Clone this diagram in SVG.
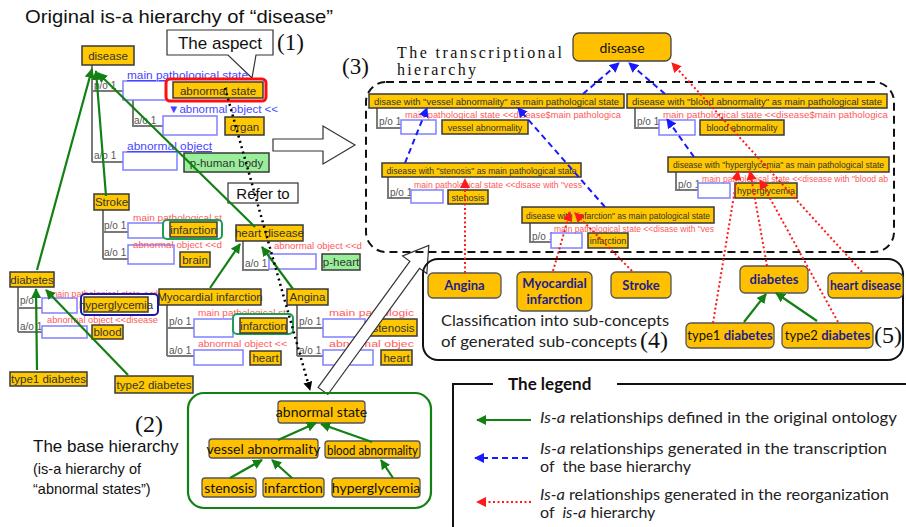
<svg xmlns="http://www.w3.org/2000/svg" width="906" height="527" viewBox="0 0 906 527">
<defs>
<marker id="ag" viewBox="0 0 10 10" refX="9" refY="5" markerWidth="10" markerHeight="10" markerUnits="userSpaceOnUse" orient="auto"><path d="M0,0 L10,5 L0,10 z" fill="#128012"/></marker>
<marker id="ab" viewBox="0 0 10 10" refX="9" refY="5" markerWidth="10" markerHeight="10" markerUnits="userSpaceOnUse" orient="auto"><path d="M0,0 L10,5 L0,10 z" fill="#1a1aff"/></marker>
<marker id="ar" viewBox="0 0 10 10" refX="9" refY="5" markerWidth="10" markerHeight="10" markerUnits="userSpaceOnUse" orient="auto"><path d="M0,0 L10,5 L0,10 z" fill="#ff1a1a"/></marker>
<marker id="ak" viewBox="0 0 10 10" refX="9" refY="5" markerWidth="9" markerHeight="9" markerUnits="userSpaceOnUse" orient="auto"><path d="M0,0 L10,5 L0,10 z" fill="#000"/></marker>
</defs>
<style>
.ty{fill:#FFC800;stroke:#3a3a3a;stroke-width:1.5}
.tg{fill:#99EE99;stroke:#3a3a3a;stroke-width:1.5}
.tt{font-family:"Liberation Sans",Arial,sans-serif;font-size:11.5px;fill:#333;text-anchor:middle}
.ts{font-family:"Liberation Sans",Arial,sans-serif;font-size:9px;fill:#333;text-anchor:middle}
.tl{stroke:#7a7a7a;stroke-width:2;fill:none}
.bb{fill:#fff;stroke:#8080ff;stroke-width:1.5}
.bt{font-family:"Liberation Sans",Arial,sans-serif;font-size:11.5px;fill:#4646ff;text-decoration:underline}
.rt{font-family:"Liberation Sans",Arial,sans-serif;font-size:9.5px;fill:#ff5a5a}
.pl{font-family:"Liberation Sans",Arial,sans-serif;font-size:10px;fill:#555}
.gr{stroke:#128012;stroke-width:2.2;fill:none;marker-end:url(#ag)}
.bd{stroke:#1a1aff;stroke-width:2;stroke-dasharray:6 4;fill:none;marker-end:url(#ab)}
.rd{stroke:#ff1a1a;stroke-width:2;stroke-dasharray:2 2.5;fill:none;marker-end:url(#ar)}
.oy{fill:#FFC000;stroke:#555;stroke-width:1.3}
.ot{font-family:Lato,"Open Sans",sans-serif;font-size:14px;fill:#111;text-anchor:middle}
.ob{font-family:Lato,"Open Sans",sans-serif;font-size:13px;font-weight:bold;fill:#1e1e8c;text-anchor:middle}
.sa{font-family:"Liberation Sans",Arial,sans-serif;fill:#111}
.tm{font-family:"Liberation Serif","Times New Roman",serif;fill:#111}
.lg{font-family:Lato,"Open Sans",sans-serif;font-size:16px;fill:#222}
</style>

<!-- Captions -->
<text class="sa" x="25" y="23" font-size="19" textLength="308" lengthAdjust="spacingAndGlyphs">Original is-a hierarchy of “disease”</text>
<g id="aspect">
<path d="M167,30 H273 V55 H256 L252,78 L228,55 H167 Z" fill="#fff" stroke="#333" stroke-width="1.2"/>
<text class="sa" x="220" y="49" font-size="17" text-anchor="middle">The aspect</text>
</g>
<text class="tm" x="277" y="50" font-size="23">(1)</text>
<text class="tm" x="342" y="74" font-size="23">(3)</text>
<text class="tm" x="397" y="58" font-size="16" textLength="165" lengthAdjust="spacing">The transcriptional</text>
<text class="tm" x="397" y="75" font-size="16" textLength="79" lengthAdjust="spacing">hierarchy</text>
<text class="tm" x="135" y="432" font-size="24">(2)</text>
<text class="sa" x="33" y="452" font-size="17">The base hierarchy</text>
<text class="sa" x="33" y="474" font-size="14.5">(is-a hierarchy of</text>
<text class="sa" x="33" y="494" font-size="14.5">“abnormal states”)</text>

<!-- tree lines of the ontology tool -->
<g id="treelines">
<path class="tl" d="M92,65 V162 M92,91 H123 M92,162 H123 M133,100 V126 H163"/>
<path class="tl" d="M103,210 V259 M103,232 H128 M103,259 H128"/>
<path class="tl" d="M243,241 V270 H269"/>
<path class="tl" d="M167,305 V356 M167,328 H194 M167,356 H194"/>
<path class="tl" d="M297,305 V356 M297,328 H323 M297,356 H323"/>
<path class="tl" d="M18,287 V332 M18,308 H42 M18,332 H42"/>
<path class="tl" d="M377,108 V128 H401"/>
<path class="tl" d="M635,108 V128 H659"/>
<path class="tl" d="M676,172 V190 H698"/>
<path class="tl" d="M388,177 V198 H411"/>
<path class="tl" d="M530,223 V242 H551"/>
</g>

<g id="disease">
<rect class="ty" x="82" y="46" width="52" height="19"/>
<text class="tt" x="108" y="60" font-size="12.5">disease</text>
<text class="pl" x="94" y="89">p/o 1</text>
<rect class="bb" x="123" y="81" width="44" height="19"/>
<text class="bt" x="127" y="79" textLength="121" lengthAdjust="spacingAndGlyphs">main pathological state</text>
<rect x="166" y="79" width="100" height="22" rx="4" fill="#fff" stroke="#ff1010" stroke-width="3"/>
<rect class="ty" x="173" y="82" width="90" height="16"/>
<text class="tt" x="218" y="94.5" font-size="12">abnormal state</text>
<text class="pl" x="134" y="124">a/o 1</text>
<rect class="bb" x="163" y="116" width="54" height="19"/>
<text class="bt" x="168" y="113" textLength="110" lengthAdjust="spacingAndGlyphs" style="text-decoration:none">▼abnormal object &lt;&lt;</text>
<rect class="ty" x="225" y="117" width="39" height="18"/>
<text class="tt" x="244.5" y="130.5" font-size="12">organ</text>
<text class="pl" x="94" y="159">a/o 1</text>
<rect class="bb" x="123" y="152" width="54" height="18"/>
<text class="bt" x="127" y="150" textLength="85" lengthAdjust="spacingAndGlyphs">abnormal object</text>
<rect class="tg" x="184" y="153" width="85" height="19"/>
<text class="tt" x="226.5" y="166.5" font-size="12">p-human body</text>
</g>

<g id="stroke">
<rect class="ty" x="94" y="194" width="35" height="16"/>
<text class="tt" x="111.5" y="206" font-size="10.5">Stroke</text>
<text class="pl" x="104" y="229">p/o 1</text>
<rect class="bb" x="128" y="223" width="35" height="15"/>
<text class="rt" x="133" y="221" textLength="89" lengthAdjust="spacingAndGlyphs">main pathological st</text>
<rect x="163" y="220" width="59" height="19" rx="4" fill="#fff" stroke="#1aa050" stroke-width="2"/>
<rect class="ty" x="170" y="222" width="47" height="15"/>
<text class="tt" x="193.5" y="233.5" font-size="10.5">infarction</text>
<text class="pl" x="104" y="256">a/o 1</text>
<rect class="bb" x="128" y="245" width="46" height="19"/>
<text class="rt" x="133" y="248" textLength="89" lengthAdjust="spacingAndGlyphs">abnormal object &lt;&lt;d</text>
<rect class="ty" x="180" y="252" width="30" height="15"/>
<text class="tt" x="195" y="263.5" font-size="10.5">brain</text>
</g>

<g id="heart-disease">
<rect class="ty" x="236" y="225" width="67" height="16"/>
<text class="tt" x="269.5" y="237" font-size="10.5">heart disease</text>
<text class="pl" x="245" y="267">a/o 1</text>
<rect class="bb" x="269" y="254" width="47" height="15"/>
<text class="rt" x="274" y="249" textLength="88" lengthAdjust="spacingAndGlyphs">abnormal object &lt;&lt;d</text>
<rect class="tg" x="322" y="254" width="38" height="16"/>
<text class="tt" x="341" y="266" font-size="10.5">p-heart</text>
</g>

<g id="myocardial">
<rect class="ty" x="159" y="289" width="102" height="16"/>
<text class="tt" x="210" y="301" font-size="10.5">Myocardial infarction</text>
<text class="pl" x="169" y="325">p/o 1</text>
<rect class="bb" x="194" y="319" width="39" height="18"/>
<text class="rt" x="198" y="316" textLength="88" lengthAdjust="spacingAndGlyphs">main pathological st</text>
<rect x="233" y="314" width="60" height="20" rx="4" fill="#fff" stroke="#1aa050" stroke-width="2"/>
<rect class="ty" x="240" y="318" width="47" height="15"/>
<text class="tt" x="263.5" y="329.5" font-size="10.5">infarction</text>
<text class="pl" x="169" y="354">a/o 1</text>
<rect class="bb" x="194" y="350" width="49" height="15"/>
<text class="rt" x="198" y="347" textLength="89" lengthAdjust="spacingAndGlyphs">abnormal object &lt;&lt;</text>
<rect class="ty" x="250" y="351" width="31" height="14"/>
<text class="tt" x="265.5" y="362" font-size="10.5">heart</text>
</g>

<g id="angina">
<rect class="ty" x="287" y="289" width="41" height="16"/>
<text class="tt" x="307.5" y="301" font-size="10.5">Angina</text>
<text class="pl" x="299" y="325">p/o 1</text>
<rect class="bb" x="323" y="319" width="42" height="18"/>
<text class="rt" x="329" y="316" textLength="85" lengthAdjust="spacingAndGlyphs">main pathologic</text>
<rect class="ty" x="370" y="319" width="47" height="17"/>
<text class="tt" x="393.5" y="331.5" font-size="10.5">stenosis</text>
<text class="pl" x="299" y="354">a/o 1</text>
<rect class="bb" x="323" y="350" width="50" height="15"/>
<text class="rt" x="329" y="347" textLength="85" lengthAdjust="spacingAndGlyphs">abnormal objec</text>
<rect class="ty" x="381" y="350" width="31" height="15"/>
<text class="tt" x="396.5" y="361.5" font-size="10.5">heart</text>
</g>

<g id="diabetes">
<rect class="ty" x="10" y="272" width="44" height="15"/>
<text class="tt" x="32" y="283.5" font-size="10">diabetes</text>
<text class="pl" x="20" y="304">p/o</text>
<rect class="bb" x="42" y="298" width="35" height="15"/>
<text class="rt" x="50" y="297" textLength="108" lengthAdjust="spacingAndGlyphs">main pathological state &lt;&lt;d</text>
<rect x="81" y="294" width="77" height="21" rx="4" fill="#fff" stroke="#1a1aa0" stroke-width="2"/>
<rect class="ty" x="84" y="297" width="64" height="15"/>
<text class="tt" x="116" y="308.5" font-size="10">hyperglycemia</text>
<text class="pl" x="20" y="330">a/o 1</text>
<rect class="bb" x="42" y="326" width="45" height="12"/>
<text class="rt" x="47" y="323" textLength="111" lengthAdjust="spacingAndGlyphs">abnormal object &lt;&lt;disease</text>
<rect class="ty" x="92" y="325" width="31" height="14"/>
<text class="tt" x="107.5" y="336" font-size="10.5">blood</text>
</g>

<g id="type1-diabetes-orig">
<rect class="ty" x="10" y="372" width="77" height="14"/>
<text class="tt" x="48.5" y="383" font-size="10">type1 diabetes</text>
</g>
<g id="type2-diabetes-orig">
<rect class="ty" x="115" y="376" width="78" height="17"/>
<text class="tt" x="154" y="388.5" font-size="10">type2 diabetes</text>
</g>

<g id="refer-to">
<rect x="228" y="183" width="70" height="20" fill="#fff" stroke="#333" stroke-width="1.2"/>
<text class="sa" x="263" y="199" font-size="15" text-anchor="middle">Refer to</text>
</g>

<!-- hollow arrows -->
<polygon points="273,139 323,139 323,126 355,145 323,164 323,151 273,151" fill="#fff" stroke="#333" stroke-width="1.2"/>
<polygon points="0,-6 156,-6 156,-15 180,0 156,15 156,6 0,6" transform="translate(323,391) rotate(-54)" fill="#fff" stroke="#333" stroke-width="1.2"/>

<!-- Base hierarchy -->
<g id="base-box"><rect x="188" y="393" width="243" height="115" rx="16" fill="none" stroke="#138013" stroke-width="2.2"/></g>
<g id="b-abnormal-state"><rect class="oy" x="278" y="401" width="87" height="22" rx="3"/><text class="ot" x="321.5" y="417">abnormal state</text></g>
<g id="b-vessel"><rect class="oy" x="209" y="439" width="109" height="19" rx="3"/><text class="ot" x="263.5" y="453.5" font-size="13.5">vessel abnormality</text></g>
<g id="b-blood"><rect class="oy" x="325" y="441" width="95" height="17" rx="3"/><text class="ot" x="372.5" y="454.5" font-size="13.5" textLength="91" lengthAdjust="spacingAndGlyphs">blood abnormality</text></g>
<g id="b-stenosis"><rect class="oy" x="202" y="478" width="54" height="19" rx="3"/><text class="ot" x="229" y="492.5" font-size="13.5">stenosis</text></g>
<g id="b-infarction"><rect class="oy" x="263" y="478" width="61" height="19" rx="3"/><text class="ot" x="293.5" y="492.5" font-size="13.5">infarction</text></g>
<g id="b-hyperglycemia"><rect class="oy" x="332" y="478" width="88" height="19" rx="3"/><text class="ot" x="376" y="492.5" font-size="13.5">hyperglycemia</text></g>

<!-- Transcriptional hierarchy -->
<rect x="366" y="82" width="528" height="170" rx="20" fill="none" stroke="#111" stroke-width="2" stroke-dasharray="8 5"/>
<g id="t-disease"><rect x="573" y="33" width="98" height="28" rx="6" fill="#FFC000" stroke="#444" stroke-width="1.3"/><text class="ot" x="622" y="53" font-size="16.5">disease</text></g>

<g id="t-vessel">
<rect class="ty" x="369" y="94" width="255" height="14"/>
<text class="ts" x="496.5" y="104.5" textLength="245" lengthAdjust="spacingAndGlyphs">disase with "vessel abnormality" as main pathological state</text>
<text class="pl" x="379" y="125" font-size="9">p/o 1</text>
<rect class="bb" x="401" y="120" width="35" height="14"/>
<text class="rt" x="405" y="118" font-size="9" textLength="216" lengthAdjust="spacingAndGlyphs">main pathological state &lt;&lt;disease$main pathologica</text>
<rect class="ty" x="442" y="120" width="86" height="14"/>
<text class="ts" x="485" y="130.5">vessel abnormality</text>
</g>
<g id="t-blood">
<rect class="ty" x="627" y="94" width="260" height="14"/>
<text class="ts" x="757" y="104.5" textLength="250" lengthAdjust="spacingAndGlyphs">disease with "blood abnormality" as main pathological state</text>
<text class="pl" x="637" y="125" font-size="9">p/o 1</text>
<rect class="bb" x="659" y="120" width="36" height="15"/>
<text class="rt" x="663" y="118" font-size="9" textLength="225" lengthAdjust="spacingAndGlyphs">main pathological state &lt;&lt;disease$main pathologica</text>
<rect class="ty" x="700" y="120" width="84" height="15"/>
<text class="ts" x="742" y="131">blood abnormality</text>
</g>
<g id="t-hyperglycemia">
<rect class="ty" x="668" y="157" width="221" height="15"/>
<text class="ts" x="778.5" y="168" textLength="211" lengthAdjust="spacingAndGlyphs">disease with "hyperglycemia" as main pathological state</text>
<text class="pl" x="678" y="188" font-size="9">p/o 1</text>
<rect class="bb" x="698" y="183" width="32" height="15"/>
<text class="rt" x="702" y="182" font-size="9" textLength="186" lengthAdjust="spacingAndGlyphs">main pathological state &lt;&lt;disease with "blood ab</text>
<rect class="ty" x="735" y="183" width="62" height="15"/>
<text class="ts" x="766" y="194">hyperglycemia</text>
</g>
<g id="t-stenosis">
<rect class="ty" x="382" y="163" width="199" height="14"/>
<text class="ts" x="481.5" y="173.5" textLength="190" lengthAdjust="spacingAndGlyphs">disease with "stenosis" as main pathological state</text>
<text class="pl" x="390" y="196" font-size="9">p/o 1</text>
<rect class="bb" x="411" y="190" width="32" height="13"/>
<text class="rt" x="414" y="188" font-size="9" textLength="168" lengthAdjust="spacingAndGlyphs">main pathological state &lt;&lt;disase with "vess</text>
<rect class="ty" x="448" y="190" width="40" height="14"/>
<text class="ts" x="468" y="200.5">stenosis</text>
</g>
<g id="t-infarction">
<rect class="ty" x="522" y="207" width="192" height="16"/>
<text class="ts" x="618" y="218.5" textLength="184" lengthAdjust="spacingAndGlyphs">disease with "infarction" as main patological state</text>
<text class="pl" x="532" y="240" font-size="9">p/o 1</text>
<rect class="bb" x="551" y="233" width="31" height="15"/>
<text class="rt" x="554" y="232" font-size="9" textLength="160" lengthAdjust="spacingAndGlyphs">main pathological state &lt;&lt;disase with "ves</text>
<rect class="ty" x="588" y="233" width="40" height="15"/>
<text class="ts" x="608" y="244">infarction</text>
</g>

<!-- Bottom classification box -->
<rect x="423" y="259" width="480" height="101" rx="15" fill="none" stroke="#111" stroke-width="2"/>
<g id="c-angina"><rect class="oy" x="428" y="273" width="73" height="25" rx="5"/><text class="ob" x="464.5" y="290">Angina</text></g>
<g id="c-myocardial"><rect class="oy" x="517" y="272" width="75" height="39" rx="5"/><text class="ob" x="554.5" y="288">Myocardial</text><text class="ob" x="554.5" y="304">infarction</text></g>
<g id="c-stroke"><rect class="oy" x="611" y="272" width="60" height="26" rx="5"/><text class="ob" x="641" y="289.5">Stroke</text></g>
<g id="c-diabetes"><rect class="oy" x="740" y="266" width="68" height="27" rx="5"/><text class="ob" x="774" y="284">diabetes</text></g>
<g id="c-heart-disease"><rect class="oy" x="828" y="273" width="75" height="25" rx="5"/><text class="ob" x="865.5" y="290" fill="#111" textLength="71" lengthAdjust="spacingAndGlyphs">heart disease</text></g>
<g id="c-type1"><rect class="oy" x="686" y="323" width="88" height="25" rx="5"/><text class="ob" x="730" y="340" font-size="12.5"><tspan font-weight="normal" fill="#111">type1 </tspan>diabetes</text></g>
<g id="c-type2"><rect class="oy" x="782" y="323" width="91" height="25" rx="5"/><text class="ob" x="827.5" y="340" font-size="12.5"><tspan font-weight="normal" fill="#111">type2 </tspan>diabetes</text></g>
<text class="tm" x="874" y="343" font-size="24">(5)</text>
<text class="lg" x="441" y="326" font-size="16.5" textLength="228" lengthAdjust="spacingAndGlyphs">Classification into sub-concepts</text>
<text class="lg" x="441" y="347" font-size="16.5" textLength="196" lengthAdjust="spacingAndGlyphs">of generated sub-concepts</text>
<text class="tm" x="640" y="348" font-size="24">(4)</text>

<!-- Legend -->
<g id="legend">
<path d="M453,527 V384 H493 M617,384 H906" fill="none" stroke="#111" stroke-width="2"/>
<text x="508" y="390" font-family="Lato,'Open Sans',sans-serif" font-size="17" font-weight="bold" fill="#111">The legend</text>
<line class="gr" x1="531" y1="420" x2="477" y2="420"/>
<text class="lg" x="540" y="423" textLength="357" lengthAdjust="spacingAndGlyphs"><tspan font-style="italic">Is-a</tspan> relationships defined in the original ontology</text>
<line class="bd" x1="528" y1="458" x2="475" y2="458"/>
<text class="lg" x="540" y="454" textLength="347" lengthAdjust="spacingAndGlyphs"><tspan font-style="italic">Is-a</tspan> relationships generated in the transcription</text>
<text class="lg" x="540" y="472" xml:space="preserve">of  the base hierarchy</text>
<line class="rd" x1="531" y1="502" x2="477" y2="502"/>
<text class="lg" x="540" y="500" textLength="349" lengthAdjust="spacingAndGlyphs"><tspan font-style="italic">Is-a</tspan> relationships generated in the reorganization</text>
<text class="lg" x="540" y="518" xml:space="preserve">of  <tspan font-style="italic">is-a</tspan> hierarchy</text>
</g>

<!-- Connectors -->
<g id="connectors">
<line class="gr" x1="37" y1="270" x2="92" y2="69"/>
<line class="gr" x1="106" y1="196" x2="96" y2="71"/>
<line class="gr" x1="255" y1="227" x2="98" y2="73"/>
<line class="gr" x1="37" y1="370" x2="36" y2="289"/>
<line class="gr" x1="128" y1="375" x2="46" y2="290"/>
<line class="gr" x1="210" y1="288" x2="240" y2="244"/>
<line class="gr" x1="293" y1="289" x2="262" y2="247"/>
<line class="gr" x1="278" y1="440" x2="316" y2="423"/>
<line class="gr" x1="372" y1="442" x2="321" y2="424"/>
<line class="gr" x1="230" y1="478" x2="262" y2="460"/>
<line class="gr" x1="292" y1="478" x2="272" y2="460"/>
<line class="gr" x1="393" y1="478" x2="381" y2="460"/>
<line class="gr" x1="744" y1="322" x2="766" y2="294"/>
<line class="gr" x1="817" y1="321" x2="776" y2="293"/>
<line x1="225" y1="88" x2="310" y2="390" stroke="#000" stroke-width="2.5" stroke-dasharray="2 3.5" marker-end="url(#ak)"/>
<line class="bd" x1="583" y1="94" x2="619" y2="63"/>
<line class="bd" x1="665" y1="94" x2="629" y2="63"/>
<line class="bd" x1="405" y1="163" x2="427" y2="108"/>
<line class="bd" x1="605" y1="207" x2="518" y2="108"/>
<line class="bd" x1="694" y1="157" x2="667" y2="119"/>
<line class="rd" x1="862" y1="272" x2="672" y2="63"/>
<line class="rd" x1="713" y1="323" x2="738" y2="171"/>
<line class="rd" x1="767" y1="266" x2="750" y2="171"/>
<line class="rd" x1="838" y1="322" x2="760" y2="180"/>
<line class="rd" x1="553" y1="271" x2="570" y2="212"/>
<line class="rd" x1="632" y1="271" x2="575" y2="213"/>
<line class="rd" x1="465" y1="273" x2="465" y2="179"/>
</g>
</svg>
